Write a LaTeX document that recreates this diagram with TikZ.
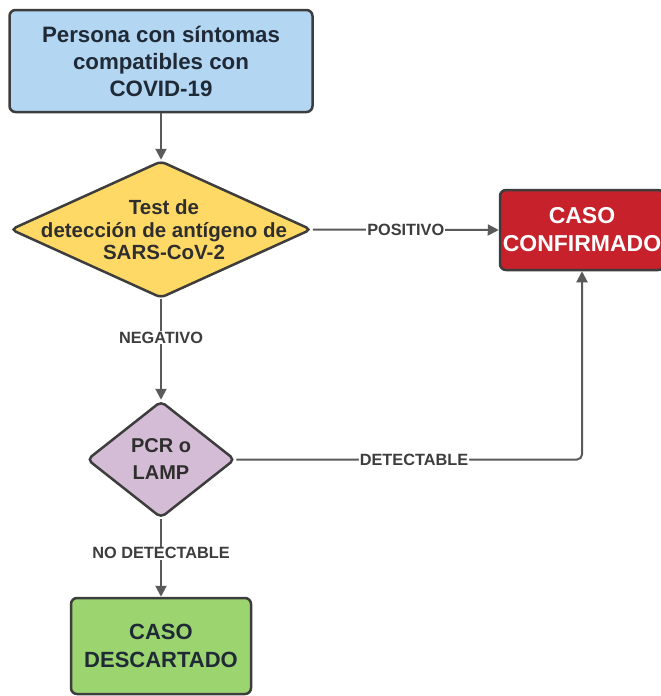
\documentclass[tikz,border=0pt]{standalone}
\usepackage{fontspec}
\setmainfont{Liberation Sans}
\usetikzlibrary{shapes.geometric,arrows.meta}
\definecolor{linec}{HTML}{3D3D3D}
\definecolor{arrc}{HTML}{5A5A5A}
\definecolor{txtc}{HTML}{1F2A36}
\definecolor{dtxt}{HTML}{2E2E2E}
\definecolor{bluef}{HTML}{B3D6F2}
\definecolor{yellowf}{HTML}{FFD966}
\definecolor{redf}{HTML}{C7222B}
\definecolor{lavf}{HTML}{D5BCD6}
\definecolor{greenf}{HTML}{9CD56F}
\tikzset{
  box/.style={draw=linec, line width=2.5pt, rounded corners=6pt, align=center, inner sep=0pt, text=txtc,
    font=\bfseries\fontsize{22.3}{27}\selectfont},
  dia/.style={shape=diamond, draw=linec, line width=2.5pt, rounded corners=5pt, inner sep=0pt},
  dtext/.style={align=center, inner sep=0pt, text=dtxt, font=\bfseries\fontsize{20.5}{22.5}\selectfont},
  arr/.style={draw=arrc, line width=2pt, -{Triangle[length=11pt,width=11pt]}},
  lbl/.style={fill=white, inner sep=1pt, text=linec, font=\bfseries\fontsize{16.3}{18}\selectfont}
}
\begin{document}
\begin{tikzpicture}[x=1pt,y=-1pt]
\useasboundingbox (0,0) rectangle (661,696);
\node[box, fill=bluef, minimum width=303pt, minimum height=102pt] (start) at (161,61) {Persona con síntomas\\compatibles con\\COVID-19};
\node[dia, fill=yellowf, minimum width=301pt, minimum height=137pt] (test) at (161,229.5) {};
\node[dtext] (testtxt) at (164,230) {Test de\\detección de antígeno de\\SARS-CoV-2};
\node[box, fill=redf, text=white, font=\bfseries\fontsize{23}{28}\selectfont, minimum width=164pt, minimum height=80pt] (conf) at (582,230) {CASO\\CONFIRMADO};
\node[dia, fill=lavf, minimum width=148pt, minimum height=117pt] (pcr) at (161,459.5) {};
\node[dtext, font=\bfseries\fontsize{20}{27}\selectfont] (pcrtxt) at (pcr.center) {PCR o\\LAMP};
\node[box, fill=greenf, font=\bfseries\fontsize{22}{28}\selectfont, minimum width=180pt, minimum height=96pt] (desc) at (161,646) {CASO\\DESCARTADO};
\draw[arr] (start) -- (test);
\draw[arr] (test.east) -- (conf.west) node[lbl, midway] {POSITIVO};
\draw[arr] (test.south) -- (pcr.north) node[lbl, pos=0.38] {NEGATIVO};
\draw[arr, rounded corners=5pt] (pcr.east) -| (conf.south) node[lbl, pos=0.257] {DETECTABLE};
\draw[arr] (pcr.south) -- (desc.north) node[lbl, pos=0.44] {NO DETECTABLE};
\end{tikzpicture}
\end{document}
